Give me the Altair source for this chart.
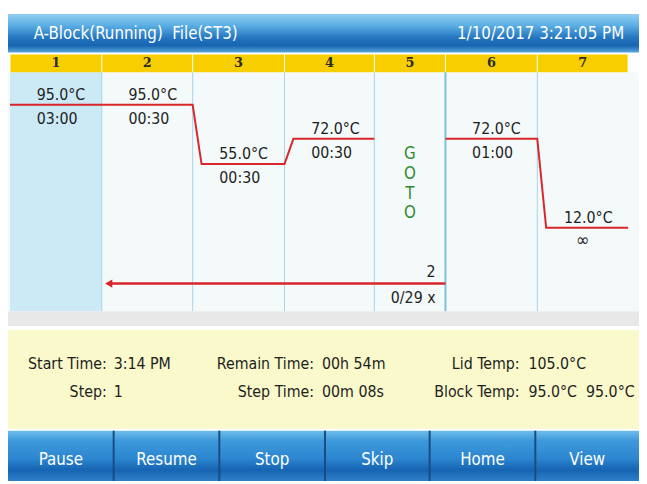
import altair as alt
import pandas as pd

# ---------------- data ----------------
header_left = "A-Block(Running)  File(ST3)"
header_right = "1/10/2017 3:21:05 PM"
steps = [1, 2, 3, 4, 5, 6, 7]
step_temps = [95.0, 95.0, 55.0, 72.0, None, 72.0, 12.0]
step_times = ["03:00", "00:30", "00:30", "00:30", "", "01:00", "∞"]
goto_step = 5
goto_target = 2
goto_label = "2"
goto_progress = "0/29 x"
goto_word = "GOTO"
current_step = 1
info_row1_labels = ["Start Time:", "Remain Time:", "Lid Temp:"]
info_row1_values = ["3:14 PM", "00h 54m", "105.0°C"]
info_row2_labels = ["Step:", "Step Time:", "Block Temp:"]
info_row2_values = ["1", "00m 08s", "95.0°C  95.0°C"]
buttons = ["Pause", "Resume", "Stop", "Skip", "Home", "View"]

# ---------------- layout ----------------
X_MIN, X_MAX = 8, 647
W, H = X_MAX - X_MIN, 484 - 8
col_edges = [10, 103, 195, 288, 379, 451, 544, 636]
button_edges = [8, 115, 222, 329, 435, 542, 647]
info_label_right = [108, 318, 526]
info_value_left = [115, 326, 535]
RAMP = 9
TEXT_INSET = 27
TEMP_DOMAIN = [-159.0, 158.3333]
FONT = "DejaVu Sans Condensed"


def keep_spaces(s):
    # SVG collapses repeated spaces; keep the visible gap
    return s.replace("  ", " \u00a0")


def py(img_y):
    return img_y - 8


XS = alt.Scale(domain=[X_MIN, X_MAX], nice=False, zero=False)
TS = alt.Scale(domain=TEMP_DOMAIN, nice=False, zero=False)


def X(field):
    return alt.X(field, type="quantitative", scale=XS, axis=None)


def X2(field):
    return alt.X2(field)


def grad(stops):
    return alt.LinearGradient(
        gradient="linear",
        stops=[alt.GradientStop(color=c, offset=o) for o, c in stops],
        x1=0, x2=0, y1=0, y2=1,
    )


layers = []

# header bar
hdr = pd.DataFrame({"x0": [X_MIN], "x1": [X_MAX]})
layers.append(
    alt.Chart(hdr).mark_rect(
        fill=grad([(0, "#93D0F2"), (0.3, "#5BAEE3"), (0.62, "#2475C0"),
                   (0.82, "#1765B0"), (1, "#5AA6DE")])
    ).encode(x=X("x0"), x2=X2("x1"), y=alt.value(py(11)), y2=alt.value(py(50)))
)
hdr_txt = pd.DataFrame({"x": [34], "t": [keep_spaces(header_left)]})
layers.append(
    alt.Chart(hdr_txt).mark_text(align="left", baseline="middle", font=FONT,
                                 fontSize=17, color="white")
    .encode(x=X("x"), y=alt.value(py(31)), text="t:N")
)
hdr_txt2 = pd.DataFrame({"x": [632], "t": [header_right]})
layers.append(
    alt.Chart(hdr_txt2).mark_text(align="right", baseline="middle", font=FONT,
                                  fontSize=17, color="white")
    .encode(x=X("x"), y=alt.value(py(31)), text="t:N")
)

# step table frame
cols = pd.DataFrame({
    "step": steps,
    "x0": col_edges[:-1],
    "x1": col_edges[1:],
    "temp": step_temps,
    "time": step_times,
})
cols["xc"] = (cols["x0"] + cols["x1"]) / 2
cols["cx0"] = cols["x0"] + 0.5
cols["cx1"] = cols["x1"] - 0.5

# plot background
pbg = pd.DataFrame({"x0": [X_MIN], "x1": [X_MAX]})
layers.append(
    alt.Chart(pbg).mark_rect(color="#F4FAFA")
    .encode(x=X("x0"), x2=X2("x1"), y=alt.value(py(70)), y2=alt.value(py(312)))
)
cur = cols[cols["step"] == current_step]
layers.append(
    alt.Chart(cur).mark_rect(color="#CBEAF6")
    .encode(x=X("x0"), x2=X2("x1"), y=alt.value(py(70)), y2=alt.value(py(312)))
)

# yellow step header
layers.append(
    alt.Chart(cols).mark_rect(color="#F7CE00")
    .encode(x=X("cx0"), x2=X2("cx1"), y=alt.value(py(52)), y2=alt.value(py(70)))
)
layers.append(
    alt.Chart(cols).mark_text(baseline="middle", font="DejaVu Serif", fontWeight="bold",
                              fontSize=13, color="#2A2A2A")
    .encode(x=X("xc"), y=alt.value(py(61)), text="step:N")
)

# column separators
sep = pd.DataFrame({"x": col_edges[1:-1]})
goto_right = col_edges[steps.index(goto_step) + 1]
thin = sep[sep["x"] != goto_right]
thick = sep[sep["x"] == goto_right]
layers.append(
    alt.Chart(thin).mark_rule(color="#A6D5E7", strokeWidth=1)
    .encode(x=X("x"), y=alt.value(py(70)), y2=alt.value(py(312)))
)
layers.append(
    alt.Chart(thick).mark_rule(color="#7CC0DD", strokeWidth=2)
    .encode(x=X("x"), y=alt.value(py(70)), y2=alt.value(py(312)))
)

# temperature profile line (segments broken at GOTO step)
pts = []
seg = 0
order = 0
prev = None
for i, (s, t) in enumerate(zip(steps, step_temps)):
    if t is None:
        seg += 1
        prev = None
        continue
    x0, x1 = col_edges[i], col_edges[i + 1]
    start = x0 + RAMP if prev is not None else x0
    pts.append({"x": start, "temp": t, "seg": seg, "o": order}); order += 1
    pts.append({"x": x1, "temp": t, "seg": seg, "o": order}); order += 1
    prev = t
line_df = pd.DataFrame(pts)
layers.append(
    alt.Chart(line_df).mark_line(color="#D9262B", strokeWidth=2)
    .encode(x=X("x"), y=alt.Y("temp:Q", scale=TS, axis=None),
            detail="seg:N", order="o:Q")
)

# temperature & time labels
lab = cols.dropna(subset=["temp"]).copy()
lab["tl"] = lab["temp"].map(lambda v: f"{v:.1f}°C")
lab["lx"] = lab["x0"] + TEXT_INSET
lab["tx"] = lab.apply(lambda r: r["xc"] if r["time"] == "∞" else r["lx"], axis=1)
lab_norm = lab[lab["time"] != "∞"]
lab_inf = lab[lab["time"] == "∞"]
layers.append(
    alt.Chart(lab).mark_text(align="left", baseline="middle", dy=-10, font=FONT,
                             fontSize=16, color="#1E1E1E")
    .encode(x=X("lx"), y=alt.Y("temp:Q", scale=TS, axis=None), text="tl:N")
)
layers.append(
    alt.Chart(lab_norm).mark_text(align="left", baseline="middle", dy=14, font=FONT,
                                  fontSize=16, color="#1E1E1E")
    .encode(x=X("tx"), y=alt.Y("temp:Q", scale=TS, axis=None), text="time:N")
)
layers.append(
    alt.Chart(lab_inf).mark_text(align="center", baseline="middle", dy=14, font=FONT,
                                 fontSize=18, color="#1E1E1E")
    .encode(x=X("tx"), y=alt.Y("temp:Q", scale=TS, axis=None), text="time:N")
)

# GOTO column
gi = steps.index(goto_step)
goto_df = pd.DataFrame({
    "xc": [(col_edges[gi] + col_edges[gi + 1]) / 2],
    "t": ["\n".join(goto_word)],
    "x_from": [col_edges[gi + 1]],
    "x_head": [col_edges[steps.index(goto_target)] + 7],
    "x_lab": [col_edges[gi + 1] - 10],
    "n": [goto_label],
    "p": [goto_progress],
})
layers.append(
    alt.Chart(goto_df).mark_text(align="center", baseline="middle", lineBreak="\n",
                                 lineHeight=20, font=FONT, fontSize=17, color="#2E8B2E")
    .encode(x=X("xc"), y=alt.value(py(153)), text="t:N")
)
layers.append(
    alt.Chart(goto_df).mark_rule(color="#D9262B", strokeWidth=2.5)
    .encode(x=X("x_from"), x2=X2("x_head"), y=alt.value(py(284)))
)
layers.append(
    alt.Chart(goto_df).mark_point(shape="triangle-left", filled=True, color="#D9262B",
                                  size=70, opacity=1)
    .encode(x=X("x_head"), y=alt.value(py(284)))
)
layers.append(
    alt.Chart(goto_df).mark_text(align="right", baseline="middle", font=FONT,
                                 fontSize=16, color="#1E1E1E")
    .encode(x=X("x_lab"), y=alt.value(py(272)), text="n:N")
)
layers.append(
    alt.Chart(goto_df).mark_text(align="right", baseline="middle", font=FONT,
                                 fontSize=16, color="#1E1E1E")
    .encode(x=X("x_lab"), y=alt.value(py(299)), text="p:N")
)

# gray band and info panel
band = pd.DataFrame({"x0": [X_MIN], "x1": [X_MAX]})
layers.append(
    alt.Chart(band).mark_rect(color="#E8E8E8")
    .encode(x=X("x0"), x2=X2("x1"), y=alt.value(py(312)), y2=alt.value(py(327)))
)
layers.append(
    alt.Chart(band).mark_rect(color="#F9F9CB")
    .encode(x=X("x0"), x2=X2("x1"), y=alt.value(py(331)), y2=alt.value(py(431)))
)
for labels, values, yy in [(info_row1_labels, info_row1_values, 366),
                           (info_row2_labels, info_row2_values, 394)]:
    d = pd.DataFrame({"l": labels, "v": [keep_spaces(v) for v in values],
                      "xl": info_label_right, "xv": info_value_left})
    layers.append(
        alt.Chart(d).mark_text(align="right", baseline="middle", font=FONT,
                               fontSize=16, color="#1E1E1E")
        .encode(x=X("xl"), y=alt.value(py(yy)), text="l:N")
    )
    layers.append(
        alt.Chart(d).mark_text(align="left", baseline="middle", font=FONT,
                               fontSize=16, color="#1E1E1E")
        .encode(x=X("xv"), y=alt.value(py(yy)), text="v:N")
    )

# buttons
bt = pd.DataFrame({"b": buttons, "x0": button_edges[:-1], "x1": button_edges[1:]})
bt["xc"] = (bt["x0"] + bt["x1"]) / 2
layers.append(
    alt.Chart(bt).mark_rect(
        fill=grad([(0, "#70BDEB"), (0.2, "#3E99DB"), (0.55, "#2C86D0"),
                   (0.78, "#1664B3"), (1, "#2E80C9")])
    ).encode(x=X("x0"), x2=X2("x1"), y=alt.value(py(433)), y2=alt.value(py(484)))
)
bsep = pd.DataFrame({"x": button_edges[1:-1]})
layers.append(
    alt.Chart(bsep).mark_rule(color="#1A4C80", strokeWidth=2)
    .encode(x=X("x"), y=alt.value(py(433)), y2=alt.value(py(484)))
)
layers.append(
    alt.Chart(bt).mark_text(align="center", baseline="middle", font=FONT,
                            fontSize=17, color="white")
    .encode(x=X("xc"), y=alt.value(py(463)), text="b:N")
)

chart = (
    alt.layer(*layers)
    .properties(width=W, height=H, autosize=alt.AutoSizeParams(type="none"), padding=0)
    .configure_view(stroke=None)
)

chart.save("out.html", embed_options={"renderer": "svg", "actions": False})
